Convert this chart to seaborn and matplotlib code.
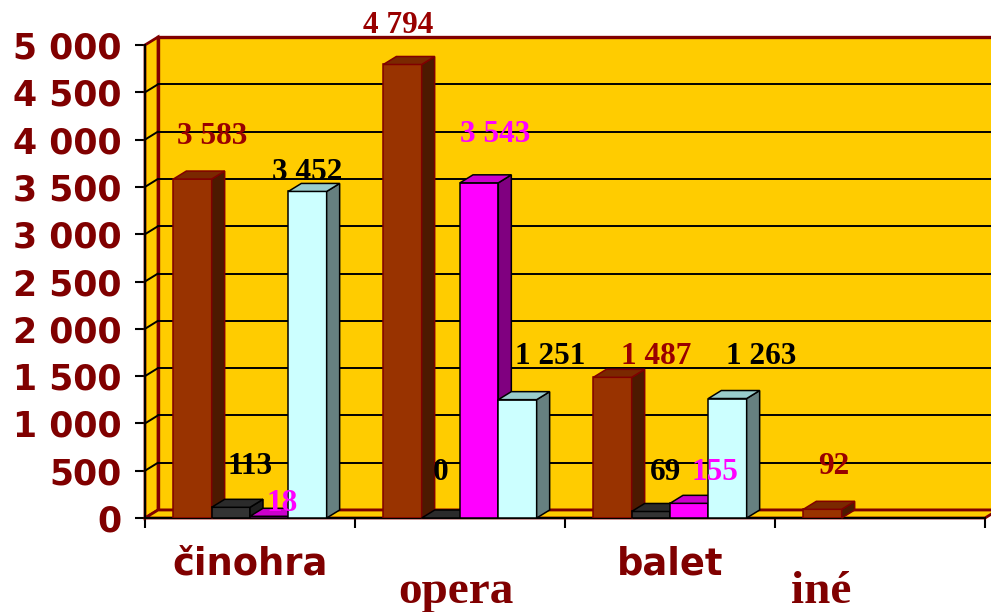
import matplotlib
matplotlib.use('Agg')
import matplotlib.pyplot as plt
from matplotlib.patches import Polygon, Rectangle
from matplotlib.colors import to_hex
from matplotlib.ticker import FuncFormatter
import seaborn as sns
import pandas as pd

categories = ['činohra', 'opera', 'balet', 'iné']
series_names = ['s1', 's2', 's3', 's4']
s1_values = [3583, 4794, 1487, 92]
s2_values = [113, 0, 69, None]
s3_values = [18, 3543, 155, None]
s4_values = [3452, 1251, 1263, None]

# label placement (x shift in px from bar centre, y in data units)
label_dx = [[20, -4, 44, 11], [19, 0, 15], [13, 16, 26], [0, 33, 34]]
label_y = [[4028, 5211, 1702, 540], [540, 476, 476], [148, 4059, 476], [3647, 1702, 1702]]
cat_shift = [0, -0.02, 0, -0.28]

front = ['#993300', '#333333', '#ff00ff', '#ccffff']
side = ['#4d1900', '#1f1f1f', '#800080', '#668080']
top = ['#7a2800', '#2b2b2b', '#cc00cc', '#99cccc']
edge = ['#800000', 'black', 'black', 'black']
label_col = ['#990000', 'black', '#ff00ff', 'black']
wall = '#ffcc00'
dark_red = '#800000'

rows = []
for name, vals in zip(series_names, [s1_values, s2_values, s3_values, s4_values]):
    for cat, v in zip(categories, vals):
        if v is not None:
            rows.append({'kategoria': cat, 'seria': name, 'hodnota': v})
df = pd.DataFrame(rows)

sns.set_style('white')
plt.rcParams['font.family'] = ['DejaVu Sans']

fig = plt.figure(figsize=(9.91, 6.12), dpi=100)
ax = fig.add_axes([145 / 991, 94 / 612, 840 / 991, 473 / 612])
ax.set_facecolor('none')

sns.barplot(data=df, x='kategoria', y='hodnota', hue='seria', order=categories,
            hue_order=series_names, palette=front, width=0.73, saturation=1,
            errorbar=None, legend=False, ax=ax)

ax.set_xlim(-0.5, 3.5)
ax.set_ylim(0, 5000)

inv = ax.transData.inverted()
o = ax.transData.transform((0, 0))
dxd, dyd = inv.transform(o + [13, 8])

# walls
ax.add_patch(Rectangle((-0.5 + dxd, dyd), 4, 5000, facecolor=wall, edgecolor=dark_red,
                       lw=2.4, zorder=0.5, clip_on=False))
ax.add_patch(Polygon([(-0.5, 0), (-0.5 + dxd, dyd), (-0.5 + dxd, 5000 + dyd), (-0.5, 5000)],
                     closed=True, facecolor=wall, edgecolor=dark_red, lw=2, zorder=0.6, clip_on=False))
ax.add_patch(Polygon([(-0.5, 0), (3.5, 0), (3.5 + dxd, dyd), (-0.5 + dxd, dyd)],
                     closed=True, facecolor=wall, edgecolor=dark_red, lw=2, zorder=0.6, clip_on=False))
for v in range(500, 5000, 500):
    ax.plot([-0.5 + dxd, 3.5 + dxd], [v + dyd, v + dyd], color='black', lw=1.4, zorder=0.8, clip_on=False)
    ax.plot([-0.5, -0.5 + dxd], [v, v + dyd], color='black', lw=1.4, zorder=0.8, clip_on=False)

# 3D faces for bars
palette_hex = [to_hex(c) for c in front]
bars = [p for p in ax.patches if isinstance(p, Rectangle) and p.get_zorder() != 0.5]
bars = [p for p in bars if to_hex(p.get_facecolor()) in palette_hex]
bars.sort(key=lambda p: p.get_x())
counters = [0, 0, 0, 0]
for i, p in enumerate(bars):
    k = palette_hex.index(to_hex(p.get_facecolor()))
    x0, w, h = p.get_x(), p.get_width(), p.get_height()
    x1 = x0 + w
    z = 3 + i * 0.01
    p.set_zorder(z)
    p.set_edgecolor(edge[k])
    p.set_linewidth(1.1)
    ax.add_patch(Polygon([(x1, 0), (x1 + dxd, dyd), (x1 + dxd, h + dyd), (x1, h)], closed=True,
                         facecolor=side[k], edgecolor=edge[k], lw=1.1, zorder=z, clip_on=False))
    ax.add_patch(Polygon([(x0, h), (x1, h), (x1 + dxd, h + dyd), (x0 + dxd, h + dyd)], closed=True,
                         facecolor=top[k], edgecolor=edge[k], lw=1.1, zorder=z, clip_on=False))
    j = counters[k]
    counters[k] += 1
    lx = x0 + w / 2 + label_dx[k][j] * dxd / 13
    ax.text(lx, label_y[k][j], f'{int(h):,}'.replace(',', ' '), ha='center', va='center',
            fontsize=22.5, fontweight='bold', family='Liberation Serif', color=label_col[k],
            zorder=20, clip_on=False)

# axes styling
for s in ['top', 'right']:
    ax.spines[s].set_visible(False)
for s in ['left', 'bottom']:
    ax.spines[s].set_color('black')
    ax.spines[s].set_linewidth(1.5)
    ax.spines[s].set_zorder(2.5)
ax.set_xlabel('')
ax.set_ylabel('')
ax.set_yticks(range(0, 5001, 500))
ax.yaxis.set_major_formatter(FuncFormatter(lambda v, _: f'{int(v):,}'.replace(',', ' ')))
ax.tick_params(axis='y', direction='out', length=7, width=1.5, pad=10, labelsize=25,
               labelcolor=dark_red, left=True, color='black')
for t in ax.get_yticklabels():
    t.set_fontweight('bold')
ax.set_xticks([-0.5, 0.5, 1.5, 2.5, 3.5])
ax.set_xticklabels([])
ax.tick_params(axis='x', direction='out', length=7, width=1.5, bottom=True, color='black')

for i, cat in enumerate(categories):
    if i % 2 == 0:
        ax.text(i + cat_shift[i], -0.1184, cat, transform=ax.get_xaxis_transform(), ha='center',
                va='baseline', fontsize=26.5, fontweight='bold', family='DejaVu Sans', color=dark_red)
    else:
        ax.text(i + cat_shift[i], -0.1790, cat, transform=ax.get_xaxis_transform(), ha='center',
                va='baseline', fontsize=34, fontweight='bold', family='Liberation Serif', color=dark_red)

fig.savefig('out.png', dpi=100, facecolor='white')
